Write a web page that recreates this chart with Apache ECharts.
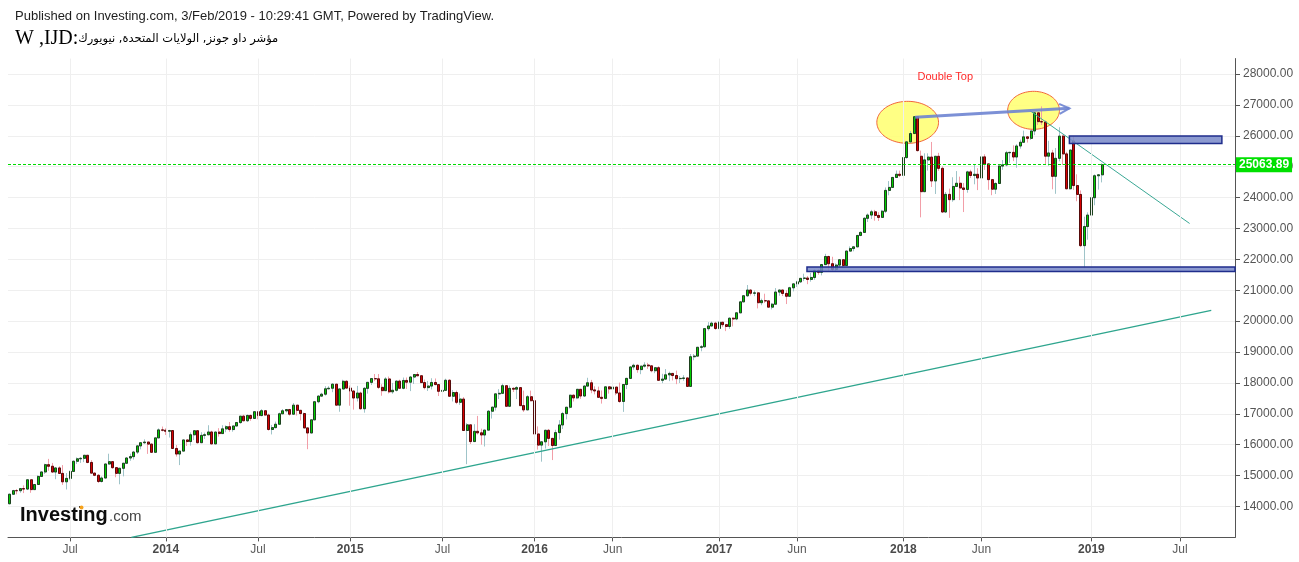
<!DOCTYPE html>
<html>
<head>
<meta charset="utf-8">
<title>DJI weekly</title>
<script src="https://cdn.jsdelivr.net/npm/echarts@6.0.0/dist/echarts.min.js"></script>
<style>
  html, body { margin: 0; padding: 0; background: #fff; }
  #chart { width: 1299px; height: 562px; }
</style>
</head>
<body>
<div id="chart"></div>
<script>
// weekly bars: [open, close, low, high]
const ohlc2013 = [
  [14090,14397,14067,14414],[14397,14514,14382,14539],[14514,14512,14395,14563],[14512,14579,14445,14585],
  [14579,14565,14434,14684],[14565,14865,14532,14888],[14865,14547,14444,14865],[14547,14712,14540,14720],[14712,14974,14700,15010],
  [14974,15118,14969,15119],[15118,15354,15055,15387],[15354,15303,15155,15542],[15303,15116,15090,15410],
  [15116,15248,14884,15272],[15248,15071,15055,15300],[15071,14800,14700,15340],[14800,14910,14551,15082],
  [14910,15136,14850,15160],[15136,15464,15130,15489],[15464,15544,15378,15590],[15544,15559,15412,15600],[15559,15658,15436,15658],
  [15658,15426,15400,15660],[15426,15081,15069,15500],[15081,15010,14983,15100],[15010,14810,14760,15050],
  [14810,14922,14777,14975],[14922,15376,14922,15380],[15376,15452,15350,15709],[15452,15258,15220,15470],[15258,15073,14947,15275],
  [15073,15237,14719,15250],[15237,15400,14976,15410],[15400,15570,15380,15600],[15570,15615,15480,15710],
  [15615,15762,15520,15800],[15762,15962,15700,15975],[15962,16064,15850,16064],[16064,16086,16030,16174],
  [16086,16020,15703,16100],[16020,15755,15739,16030],[15755,16221,15740,16221],[16221,16479,16221,16529],[16479,16469,16430,16588]
];
const ohlc2014 = [
  [16469,16437,16314,16530],[16437,16458,16233,16482],[16458,15879,15873,16460],[15879,15699,15617,15991],
  [15699,15794,15340,15800],[15794,16154,15794,16154],[16154,16103,15960,16160],[16103,16322,15970,16398],
  [16322,16453,16150,16460],[16453,16066,16038,16457],[16066,16302,16066,16406],[16302,16323,16187,16392],
  [16323,16412,16309,16631],[16412,16027,16015,16452],[16027,16409,16025,16430],[16409,16361,16264,16535],
  [16361,16513,16361,16631],[16513,16583,16404,16626],[16583,16491,16419,16735],[16491,16606,16422,16615],[16606,16717,16606,16737],
  [16717,16924,16679,16930],[16924,16776,16759,16970],[16776,16947,16733,16978],[16947,16851,16774,16978],
  [16851,17068,16851,17074],[17068,16944,16823,17075],[16944,17100,16921,17151],[17100,16961,16927,17114],
  [16961,16493,16457,17006],[16493,16554,16333,16640],[16554,16663,16530,16749],[16663,17001,16658,17039],[17001,17098,17001,17154],
  [17098,17138,17045,17151],[17138,16988,16943,17160],[16988,17280,16977,17350],[17280,17113,16945,17280],
  [17113,17009,16786,17120],[17009,16544,16544,17039],[16544,16380,15855,16544],[16380,16805,16380,16810],[16805,17391,16800,17395],
  [17391,17573,17341,17600],[17573,17635,17555,17682],[17635,17810,17587,17894],[17810,17828,17809,17894],
  [17828,17959,17700,17991],[17959,17281,17280,17959],[17281,17805,17067,17820],[17805,18053,17800,18103],[18053,17833,17820,18087]
];
const ohlc2015 = [
  [17833,17737,17262,17916],[17737,17512,17136,17770],[17512,17673,17400,17904],[17673,17165,17136,17717],
  [17165,17825,17037,17866],[17825,18019,17654,18023],[18019,18140,17932,18148],[18140,18133,18059,18289],
  [18133,17857,17802,18288],[17857,17750,17585,17957],[17750,18128,17748,18185],[18128,17713,17660,18206],
  [17713,17763,17649,18000],[17763,18058,17723,18078],[18058,17827,17808,18105],[17827,18080,17794,18175],
  [18080,18024,17806,18175],[18024,18191,17735,18226],[18191,18272,17965,18288],[18272,18232,18216,18351],[18232,18011,17991,18240],
  [18011,17849,17791,18110],[17849,17899,17738,18066],[17899,18015,17790,18152],[18015,17947,17924,18144],
  [17947,17730,17576,17947],[17730,17760,17465,17826],[17760,18086,17760,18137],[18086,17569,17560,18120],
  [17569,17690,17400,17772],[17690,17373,17314,17753],[17373,17477,17290,17656],[17477,16460,16459,17542],[16460,16643,15370,16697],
  [16643,16102,16023,16645],[16102,16433,16102,16665],[16433,16385,16330,16933],[16385,16315,16002,16519],
  [16315,16472,15942,16480],[16472,17084,16472,17123],[17084,17216,16847,17220],[17216,17646,17108,17647],[17646,17664,17479,17799],
  [17664,17910,17640,17978],[17910,17245,17230,17910],[17245,17824,17218,17914],[17824,17798,17708,17860],
  [17798,17848,17478,17896],[17848,17265,17264,17856],[17265,17128,17061,17751],[17128,17553,17128,17603],[17553,17425,17400,17751]
];
const ohlc2016 = [
  [17425,16347,16314,17425],[16347,15988,15842,16593],[15988,16094,15451,16099],[16094,16466,15878,16486],
  [16466,16205,15960,16511],[16205,15974,15503,16205],[15974,16392,15974,16484],[16392,16640,16165,16796],
  [16640,17007,16510,17063],[17007,17213,16821,17220],[17213,17602,17170,17620],[17602,17516,17399,17627],
  [17516,17793,17476,17804],[17793,17577,17484,17793],[17577,17898,17550,17927],[17898,18004,17890,18167],[18004,17774,17667,18099],
  [17774,17741,17630,17891],[17741,17535,17519,17880],[17535,17501,17331,17757],[17501,17873,17501,17892],
  [17873,17807,17653,17890],[17807,17865,17807,18003],[17865,17675,17603,17865],[17675,17400,17356,18011],[17400,17949,17063,17950],
  [17949,18147,17800,18165],[18147,18517,18147,18537],[18517,18571,18426,18623],[18571,18432,18330,18600],
  [18432,18543,18283,18560],[18543,18577,18500,18668],[18577,18553,18455,18650],[18553,18395,18343,18555],[18395,18492,18315,18512],
  [18492,18085,18067,18540],[18085,18124,17992,18296],[18124,18262,18095,18449],[18262,18308,18058,18365],
  [18308,18240,18080,18308],[18240,18138,17960,18400],[18138,18146,17998,18222],[18146,18161,18070,18251],
  [18161,17888,17884,18173],[17888,18848,17888,18935],[18848,18868,18736,18935],[18868,19153,18868,19153],
  [19153,19171,19024,19226],[19171,19757,19148,19771],[19757,19843,19694,19967],[19843,19934,19843,19987],[19934,19763,19719,19981]
];
const ohlc2017 = [
  [19763,19964,19740,19999],[19964,19886,19806,19974],[19886,19827,19677,19887],[19827,20094,19750,20125],
  [20094,20071,19831,20125],[20071,20269,20031,20298],[20269,20624,20269,20639],[20624,20822,20624,20840],
  [20822,21006,20786,21169],[21006,20903,20832,21030],[20903,20915,20808,20994],[20915,20597,20412,20953],[20597,20663,20517,20728],
  [20663,20656,20586,20888],[20656,20453,20453,20676],[20453,20548,20379,20590],[20548,20941,20548,21070],
  [20941,21007,20822,21012],[21007,20897,20812,21009],[20897,20805,20553,21000],[20805,21080,20804,21112],[21080,21206,20964,21225],
  [21206,21272,21106,21305],[21272,21384,21239,21392],[21384,21395,21295,21535],[21395,21350,21197,21459],
  [21350,21414,21278,21562],[21414,21638,21339,21681],[21638,21580,21504,21681],[21580,21830,21482,21843],
  [21830,22093,21830,22179],[22093,21858,21600,22118],[21858,21675,21600,22084],[21675,21814,21600,21869],[21814,21988,21743,22001],
  [21988,21798,21709,22008],[21798,22268,21798,22275],[22268,22350,22257,22419],[22350,22405,22261,22424],
  [22405,22774,22405,22777],[22774,22872,22750,22906],[22872,23329,22861,23368],[23329,23434,23210,23485],[23434,23539,23306,23602],
  [23539,23422,23251,23602],[23422,23358,23242,23526],[23358,23558,23358,23602],[23558,24232,23500,24328],
  [24232,24329,24073,24534],[24329,24651,24322,24669],[24651,24754,24651,24876],[24754,24719,24666,24872]
];
const ohlc2018 = [
  [24719,25296,24719,25299],[25296,25803,25257,25804],[25803,26072,25766,26153],[26072,26617,26072,26617],
  [26617,25521,25490,26617],[25337,24191,23360,25521],[24191,25219,24190,25432],[25219,25310,24874,25432],
  [25310,24538,24342,25800],[24538,25336,24117,25336],[25336,24946,24865,25449],[24946,23533,23509,25008],[23533,24103,23509,24180],
  [24103,23933,23344,24290],[23933,24360,23866,24658],[24360,24463,24348,24858],[24463,24311,23918,24677],
  [24311,24263,23531,24473],[24263,24831,24158,24868],[24831,24715,24632,24900],[24715,24753,24430,25086],[24753,24635,24242,24952],
  [24635,25317,24635,25326],[25317,25090,24896,25402],[25090,24581,24252,25105],[24581,24271,24077,24604],
  [24271,24456,24117,24493],[24456,25019,24456,25063],[25019,25058,24899,25215],[25058,25451,25012,25512],
  [25451,25463,25123,25480],[25463,25313,25180,25692],[25313,25669,24965,25726],[25669,25790,25584,25877],[25790,25965,25788,26167],
  [25965,25917,25781,25980],[25917,26155,25867,26172],[26155,26743,26022,26769],[26743,26458,26351,26743],
  [26458,26447,26350,26951],[26447,25340,25052,26497],[25340,25444,25028,25837],[25444,24688,24268,25544],[24688,25270,24122,25605],
  [25270,25989,25174,26277],[25989,25413,25057,26034],[25413,24286,24268,25480],[24286,25538,24260,25539],
  [25826,24389,24243,25980],[24389,24101,23881,24754],[24101,22445,22397,24230],[22445,23062,21713,23381],[23062,23433,22638,23521]
];
const ohlc2019 = [
  [23433,23996,23346,24064],[23996,24706,23751,24750],[24706,24737,24258,24749],[24737,25063.89,24491,25110]
];

// weeks
const firstWeek = '2013-03-04';
const emptyWeeksAfter = 37;
const tickDates = ['2013-07-01','2014-01-06','2014-07-07','2015-01-05','2015-07-06','2016-01-04','2016-06-06',
                   '2017-01-02','2017-06-05','2018-01-01','2018-06-04','2019-01-07','2019-07-01'];
const tickTexts = ['Jul','2014','Jul','2015','Jul','2016','Jun','2017','Jun','2018','Jun','2019','Jul'];

// drawings, given as [week index, price]
const longTrend = [[34.3, 13000], [338.8, 20352]];
const shortTrend = [[287.7, 26810], [332.7, 23162]];
const topArrow = [[255.3, 26597], [298.8, 26888]];
const topEllipses = [[253.2, 26435, 8.7, 680], [288.7, 26824, 7.3, 615]]; // x, y, rx (weeks), ry (points)
const zones = [[298.8, 25991, 341.8, 25754], [224.8, 21756, 345.5, 21607]];
const noteText = 'Double Top';
const notePos = [263.8, 27893];

const weeks = [].concat(ohlc2013, ohlc2014, ohlc2015, ohlc2016, ohlc2017, ohlc2018, ohlc2019);
const lastClose = weeks[weeks.length - 1][1];

const categories = [];
const t0 = Date.parse(firstWeek + 'T00:00:00Z');
for (let i = 0; i < weeks.length + emptyWeeksAfter; i++) {
  categories.push(new Date(t0 + i * 7 * 86400000).toISOString().slice(0, 10));
}
const tickIdx = tickDates.map(d => categories.indexOf(d));
const isTick = (i, v) => tickDates.indexOf(v) >= 0;

const wickData = weeks.map(w => [w[0], w[1], w[2], w[3]]);
const bodyData = weeks.map(w => [w[0], w[1], Math.min(w[0], w[1]), Math.max(w[0], w[1])]);

const FONT = '"Liberation Sans", Arial, sans-serif';

const chart = echarts.init(document.getElementById('chart'), null, { renderer: 'canvas' });

const option = {
  animation: false,
  backgroundColor: '#fff',
  textStyle: { fontFamily: FONT },
  grid: { left: 8, right: 64, top: 58.55, bottom: 24.6, containLabel: false },
  xAxis: [
    {
      type: 'category',
      data: categories,
      boundaryGap: true,
      axisLine: { onZero: false, lineStyle: { color: '#555', width: 1 } },
      axisTick: { show: true, interval: isTick, alignWithLabel: true, length: 4, lineStyle: { color: '#555' } },
      axisLabel: {
        interval: isTick,
        margin: 6,
        formatter: v => {
          const t = tickTexts[tickDates.indexOf(v)];
          return /^\d{4}$/.test(t) ? '{y|' + t + '}' : '{m|' + t + '}';
        },
        rich: {
          y: { fontSize: 12, fontWeight: 'bold', color: '#4a4a4a', fontFamily: FONT },
          m: { fontSize: 12, color: '#5a5a5a', fontFamily: FONT }
        }
      },
      splitLine: { show: false }
    },
    {
      type: 'value',
      min: -0.5,
      max: categories.length - 0.5,
      show: false,
      axisLine: { onZero: false },
      splitLine: { show: false }
    }
  ],
  yAxis: {
    type: 'value',
    position: 'right',
    min: 13000,
    max: 28500,
    interval: 1000,
    scale: true,
    axisLine: { show: true, onZero: false, lineStyle: { color: '#555', width: 1 } },
    axisTick: { show: true, length: 5, lineStyle: { color: '#555' } },
    axisLabel: {
      color: '#555', fontSize: 12, margin: 8, fontFamily: FONT,
      showMinLabel: false, showMaxLabel: false,
      formatter: v => v.toFixed(2)
    },
    splitLine: { show: true, showMaxLine: false, lineStyle: { color: '#efefef', width: 1 } }
  },
  series: [
    {
      // vertical grid lines at the time ticks
      type: 'line',
      xAxisIndex: 1,
      data: [],
      z: 0,
      silent: true,
      markLine: {
        silent: true,
        symbol: 'none',
        label: { show: false },
        emphasis: { disabled: true },
        lineStyle: { color: '#efefef', type: 'solid', width: 1 },
        data: tickIdx.map(i => ({ xAxis: i }))
      }
    },
    {
      name: 'wicks',
      type: 'candlestick',
      data: wickData,
      barWidth: 2.5,
      z: 2,
      silent: true,
      itemStyle: {
        color: 'rgba(0,0,0,0)', color0: 'rgba(0,0,0,0)',
        borderColor: '#9fc4c9', borderColor0: '#f29ea8', borderWidth: 1
      }
    },
    {
      name: 'DJI',
      type: 'candlestick',
      data: bodyData,
      barWidth: 2.5,
      z: 3,
      silent: true,
      itemStyle: {
        color: '#00d000', color0: '#d80000',
        borderColor: '#1d401d', borderColor0: '#550b0b', borderWidth: 1
      },
      markLine: {
        silent: true,
        symbol: 'none',
        lineStyle: { color: '#00dd00', type: [3, 2], width: 1 },
        label: {
          show: true,
          position: 'end',
          distance: 1,
          formatter: p => p.value.toFixed(2),
          backgroundColor: '#00e000',
          color: '#fff',
          fontWeight: 'bold',
          fontSize: 12,
          fontFamily: FONT,
          padding: [2, 3, 1, 3]
        },
        data: [{ yAxis: lastClose }]
      }
    },
    {
      type: 'line',
      xAxisIndex: 1,
      data: longTrend,
      symbol: 'none',
      silent: true,
      z: 4,
      lineStyle: { color: '#2ea58e', width: 1.3 }
    },
    {
      type: 'line',
      xAxisIndex: 1,
      data: shortTrend,
      symbol: 'none',
      silent: true,
      z: 4,
      lineStyle: { color: '#3aa895', width: 1 }
    }
  ]
};

chart.setOption(option);

// annotation shapes placed through the chart's own coordinate conversion
const px = p => chart.convertToPixel({ xAxisIndex: 1, yAxisIndex: 0 }, p);
const graphics = [];

topEllipses.forEach(e => {
  const c = px([e[0], e[1]]);
  const r = px([e[0] + e[2], e[1] + e[3]]);
  const a = r[0] - c[0], b = c[1] - r[1];
  const pts = [];
  for (let k = 0; k < 90; k++) {
    const t = k / 90 * Math.PI * 2;
    pts.push([c[0] + a * Math.cos(t), c[1] + b * Math.sin(t)]);
  }
  graphics.push({
    type: 'polygon', z: 1, silent: true,
    shape: { points: pts },
    style: { fill: 'rgba(255,255,110,0.85)', stroke: '#f2663a', lineWidth: 1 }
  });
});

zones.forEach(zn => {
  const p1 = px([zn[0], zn[1]]);
  const p2 = px([zn[2], zn[3]]);
  graphics.push({
    type: 'rect', z: 5, silent: true,
    shape: { x: p1[0], y: p1[1], width: p2[0] - p1[0], height: p2[1] - p1[1] },
    style: { fill: 'rgba(120,136,200,0.85)', stroke: '#1f2d8c', lineWidth: 1.5 }
  });
});

(function () {
  const a = px(topArrow[0]);
  const b = px(topArrow[1]);
  const dx = b[0] - a[0], dy = b[1] - a[1];
  const len = Math.sqrt(dx * dx + dy * dy);
  const ux = dx / len, uy = dy / len;
  const nx = -uy, ny = ux;
  graphics.push({
    type: 'line', z: 6, silent: true,
    shape: { x1: a[0], y1: a[1], x2: b[0], y2: b[1] },
    style: { stroke: 'rgba(110,132,210,0.9)', lineWidth: 3 }
  });
  graphics.push({
    type: 'polyline', z: 6, silent: true,
    shape: { points: [
      [b[0] - 10 * ux + 5 * nx, b[1] - 10 * uy + 5 * ny],
      [b[0], b[1]],
      [b[0] - 10 * ux - 5 * nx, b[1] - 10 * uy - 5 * ny]
    ] },
    style: { stroke: 'rgba(110,132,210,0.9)', lineWidth: 2, fill: null }
  });
})();

(function () {
  const p = px(notePos);
  graphics.push({
    type: 'text', z: 6, silent: true, x: p[0], y: p[1],
    style: { text: noteText, fill: '#ff2a2a', font: '11px ' + FONT, align: 'center', verticalAlign: 'middle' }
  });
})();

// header + logo
graphics.push({
  type: 'text', x: 15, y: 16, silent: true,
  style: {
    text: 'Published on Investing.com, 3/Feb/2019 - 10:29:41 GMT, Powered by TradingView.',
    fill: '#1e1e1e', font: '13px ' + FONT, verticalAlign: 'middle'
  }
});
graphics.push({
  type: 'text', x: 15, y: 39, silent: true,
  style: {
    text: '{a|W ,IJD:}{b|' + 'مؤشر داو جونز, الولايات المتحدة, نيويورك' + '}',
    fill: '#000', verticalAlign: 'middle',
    rich: {
      a: { fontSize: 20, fontFamily: '"Liberation Serif", "DejaVu Serif", serif', fill: '#000' },
      b: { fontSize: 11.5, fontFamily: '"DejaVu Sans", sans-serif', fill: '#000' }
    }
  }
});
graphics.push({
  type: 'text', x: 20, y: 525, silent: true, z: 7,
  style: { text: 'Investing', fill: '#0d0d0d', font: 'bold 20px ' + FONT, verticalAlign: 'bottom' }
});
graphics.push({
  type: 'text', x: 109, y: 524, silent: true, z: 7,
  style: { text: '.com', fill: '#444', font: '15px ' + FONT, verticalAlign: 'bottom' }
});
graphics.push({
  type: 'circle', silent: true, z: 8,
  shape: { cx: 81.5, cy: 507.5, r: 2 },
  style: { fill: '#f5a21c' }
});

chart.setOption({ graphic: graphics });
</script>
</body>
</html>
